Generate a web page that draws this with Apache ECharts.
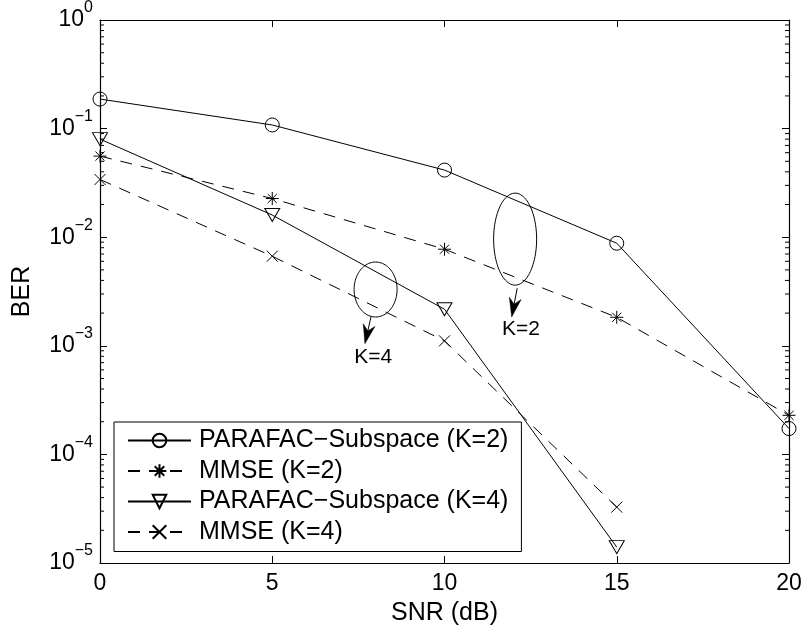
<!DOCTYPE html>
<html><head><meta charset="utf-8">
<script src="https://cdn.jsdelivr.net/npm/echarts@6/dist/echarts.min.js"></script>
<style>html,body{margin:0;padding:0;background:#fff}#c{width:806px;height:632px}</style>
</head><body><div id="c"></div>
<script>
// ---- data ----
const snr = [0, 5, 10, 15, 20];
const parafacK2 = [0.187, 0.108, 0.0415, 0.0088, 1.73e-4];
const mmseK2 = [0.0558, 0.0227, 0.00775, 0.00183, 2.29e-4];
const parafacK4 = [0.080, 0.0160, 0.00217, 1.40e-5];
const mmseK4 = [0.034, 0.00668, 0.00111, 3.27e-5];
const seriesNames = ['PARAFAC\u2212Subspace (K=2)', 'MMSE (K=2)', 'PARAFAC\u2212Subspace (K=4)', 'MMSE (K=4)'];
const xTickValues = [0, 5, 10, 15, 20];
const yMin = 1e-5, yMax = 1;
const minorMantissas = [2, 3, 4, 5, 6, 7, 8, 9];
const minorDecades = [-5, -4, -3, -2, -1];
// annotations (data coordinates)
const groupLabels = ['K=2', 'K=4'];
const ellipseCenters = [[12.05, 0.0096], [8.0, 0.0033]];
const arrowStarts = [[12.11, 3.39e-3], [7.87, 1.87e-3]];
const arrowEnds = [[11.95, 1.84e-3], [7.69, 1.047e-3]];
const labelPositions = [[12.22, 1.42e-3], [7.93, 7.78e-4]];

// ---- styles ----
const FONT = "'Liberation Sans', Arial, Helvetica, sans-serif";
const ellipseRadii = [[21.5, 46], [21.5, 27.5]];
const minorTickValues = [];
minorDecades.forEach(d => minorMantissas.forEach(m => minorTickValues.push(m * Math.pow(10, d))));

const chart = echarts.init(document.getElementById('c'), null, {renderer: 'canvas'});

function pairs(xs, ys) { return ys.map((y, i) => [xs[i], y]); }

const lineBase = {type: 'line', clip: false, silent: true, animation: false, z: 3};
const asterisk = 'path://M10,0L10,20M0,10L20,10M3,3L17,17M3,17L17,3';
const cross = 'path://M0,0L20,20M0,20L20,0';

function yLabel(v) {
  const e = Math.round(Math.log10(v));
  const s = e < 0 ? '\u2212' + (-e) : String(e);
  return '{b|10}{s|' + s + '}';
}

const axisLine = {show: true, onZero: false, lineStyle: {color: '#000', width: 1.2}};
const axisTick = {show: true, inside: true, length: 7, lineStyle: {color: '#000', width: 1}};

const option = {
  animation: false,
  backgroundColor: '#fff',
  grid: {left: 100, right: 17, top: 20, bottom: 69, containLabel: false},
  legend: {
    data: seriesNames,
    orient: 'vertical', left: 114, top: 422,
    padding: [6, 13, 7, 13],
    itemWidth: 63, itemHeight: 17, itemGap: 5.5,
    borderColor: '#000', borderWidth: 1, backgroundColor: '#fff',
    selectedMode: false,
    textStyle: {fontSize: 25, color: '#000', fontFamily: FONT, lineHeight: 25, padding: [0, 0, 0, 3]},
    z: 10
  },
  xAxis: [{
    type: 'value', min: 0, max: 20, interval: 5, position: 'bottom',
    axisLine: axisLine, axisTick: axisTick, splitLine: {show: false},
    axisLabel: {fontSize: 23, color: '#000', margin: 9, fontFamily: FONT},
    name: 'SNR (dB)', nameLocation: 'middle', nameGap: 38,
    nameTextStyle: {fontSize: 25, color: '#000', fontFamily: FONT}
  }, {
    type: 'value', min: 0, max: 20, interval: 5, position: 'top',
    axisLine: axisLine, axisTick: axisTick, splitLine: {show: false},
    axisLabel: {show: false}
  }],
  yAxis: [{
    type: 'log', logBase: 10, min: yMin, max: yMax, position: 'left',
    axisLine: axisLine, axisTick: axisTick, splitLine: {show: false},
    axisLabel: {
      formatter: yLabel, margin: 7,
      rich: {
        b: {fontSize: 23, color: '#000', fontFamily: FONT},
        s: {fontSize: 16, color: '#000', fontFamily: FONT, padding: [0, 0, 24, 0]}
      }
    },
    name: 'BER', nameLocation: 'middle', nameGap: 65, nameRotate: 90,
    nameTextStyle: {fontSize: 25, color: '#000', fontFamily: FONT}
  }, {
    type: 'log', logBase: 10, min: yMin, max: yMax, position: 'right',
    axisLine: axisLine, axisTick: axisTick, splitLine: {show: false},
    axisLabel: {show: false}
  }],
  series: [
    Object.assign({}, lineBase, {
      name: seriesNames[0], data: pairs(snr, parafacK2),
      symbol: 'circle', symbolSize: 14,
      itemStyle: {color: 'transparent', borderColor: '#000', borderWidth: 1},
      lineStyle: {color: '#000', width: 1, type: 'solid'}
    }),
    Object.assign({}, lineBase, {
      name: seriesNames[1], data: pairs(snr, mmseK2),
      symbol: asterisk, symbolSize: 13,
      itemStyle: {color: 'transparent', borderColor: '#000', borderWidth: 1},
      lineStyle: {color: '#000', width: 1, type: [12, 9]}
    }),
    Object.assign({}, lineBase, {
      name: seriesNames[2], data: pairs(snr, parafacK4),
      symbol: 'triangle', symbolRotate: 180, symbolSize: [15, 13],
      itemStyle: {color: 'transparent', borderColor: '#000', borderWidth: 1},
      lineStyle: {color: '#000', width: 1, type: 'solid'}
    }),
    Object.assign({}, lineBase, {
      name: seriesNames[3], data: pairs(snr, mmseK4),
      symbol: cross, symbolSize: 11,
      itemStyle: {color: 'transparent', borderColor: '#000', borderWidth: 1},
      lineStyle: {color: '#000', width: 1, type: [12, 9]}
    }),
    {
      type: 'custom', silent: true, z: 2,
      data: minorTickValues.map(v => [0, v]),
      encode: {x: 0, y: 1},
      renderItem: function (params, api) {
        const cs = params.coordSys;
        const p = api.coord([0, api.value(1)]);
        const st = {stroke: '#000', lineWidth: 1};
        return {type: 'group', children: [
          {type: 'line', shape: {x1: cs.x, y1: p[1], x2: cs.x + 4, y2: p[1]}, style: st},
          {type: 'line', shape: {x1: cs.x + cs.width - 4, y1: p[1], x2: cs.x + cs.width, y2: p[1]}, style: st}
        ]};
      }
    },
    {
      type: 'custom', silent: true, z: 4, clip: false,
      data: ellipseCenters.map((c, i) => [c[0], c[1], i]),
      encode: {x: 0, y: 1},
      renderItem: function (params, api) {
        const i = api.value(2);
        const c = api.coord([api.value(0), api.value(1)]);
        const r = ellipseRadii[i];
        const pts = [];
        for (let k = 0; k < 96; k++) {
          const t = k / 96 * Math.PI * 2;
          pts.push([c[0] + r[0] * Math.cos(t), c[1] + r[1] * Math.sin(t)]);
        }
        const s = api.coord(arrowStarts[i]);
        const e = api.coord(arrowEnds[i]);
        let dx = e[0] - s[0], dy = e[1] - s[1];
        const L = Math.sqrt(dx * dx + dy * dy); dx /= L; dy /= L;
        const nx = -dy, ny = dx;
        const headLen = 19, headW = 12, notch = 6;
        const back = [e[0] - dx * headLen, e[1] - dy * headLen];
        const nb = [e[0] - dx * (headLen - notch), e[1] - dy * (headLen - notch)];
        const lp = api.coord(labelPositions[i]);
        return {type: 'group', children: [
          {type: 'polygon', shape: {points: pts}, style: {fill: 'none', stroke: '#000', lineWidth: 1}},
          {type: 'line', shape: {x1: s[0], y1: s[1], x2: nb[0], y2: nb[1]}, style: {stroke: '#000', lineWidth: 1}},
          {type: 'polygon', shape: {points: [e, [back[0] + nx * headW / 2, back[1] + ny * headW / 2], nb, [back[0] - nx * headW / 2, back[1] - ny * headW / 2]]},
            style: {fill: '#000', stroke: '#000', lineWidth: 0.5}},
          {type: 'text', x: lp[0], y: lp[1], style: {text: groupLabels[i], fontSize: 21, fontFamily: FONT, fill: '#000', align: 'center', verticalAlign: 'middle'}}
        ]};
      }
    }
  ]
};
chart.setOption(option);
</script>
</body></html>
